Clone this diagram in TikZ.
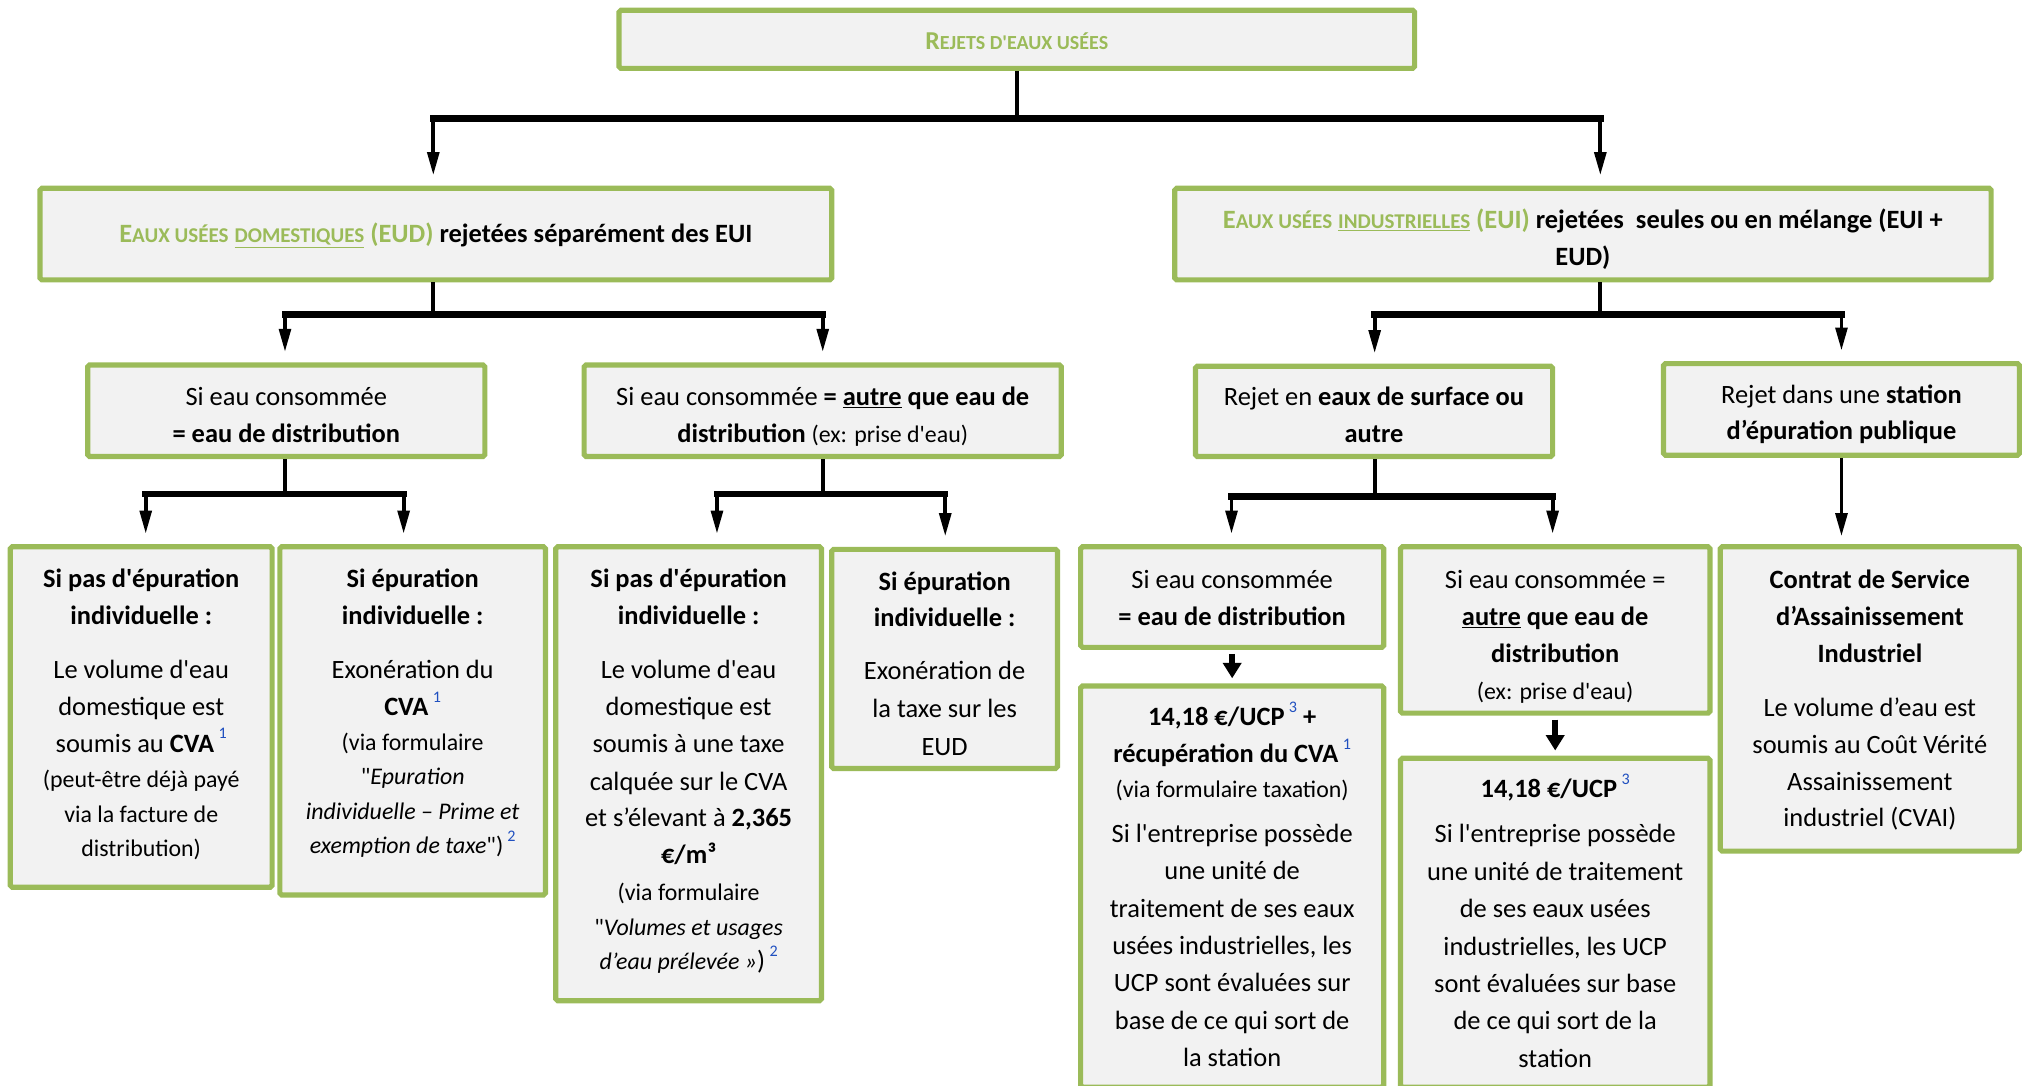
\documentclass[tikz,border=0pt]{standalone}
\usepackage{fontspec}
\setmainfont{Carlito}
\newfontfamily\calfont{Carlito}
\usetikzlibrary{arrows.meta,fit}
\definecolor{grn}{HTML}{9BBB59}
\definecolor{boxbg}{HTML}{F2F2F2}
\definecolor{fnblue}{HTML}{2050C0}
\newcommand\fnote[1]{\,\raisebox{0.5em}{\fontsize{12.5}{12}\selectfont\color{fnblue}#1}}
\newcommand\sm{\fontsize{18.5}{26}\selectfont}
\newcommand\fsc[1]{{\fontsize{16.3}{20}\selectfont #1}}
\newcommand\tsc[1]{{\fontsize{15.5}{20}\selectfont #1}}
\begin{document}
\begin{tikzpicture}[x=1pt,y=-1pt,
  box/.style={draw=grn, line width=4pt, fill=boxbg, rounded corners=1.5pt, inner sep=0pt},
  txt/.style={align=center, inner sep=0pt, anchor=north, font=\calfont\fontsize{20.5}{28.5}\selectfont},
  stem/.style={line width=3pt},
  bar/.style={line width=5pt, line cap=rect},
  arr/.style={line width=3pt, -{Triangle[length=18pt,width=9pt]}, shorten >=8pt},
  sarr/.style={line width=5pt, -{Triangle[length=12pt,width=14pt]}, shorten <=3pt, shorten >=4pt}]
\path[use as bounding box] (0,0) rectangle (1568,842);
\clip (0,0) rectangle (1568,842);

% junction coordinates
\coordinate (j0) at (788.5,92);  \coordinate (j0l) at (336,92);  \coordinate (j0r) at (1241,92);
\coordinate (j1) at (336,244);   \coordinate (j1l) at (221,244); \coordinate (j1r) at (638,244);
\coordinate (j2) at (1241,244);  \coordinate (j2l) at (1066,244);\coordinate (j2r) at (1428,244);
\coordinate (j3) at (221,383);   \coordinate (j3l) at (113,383); \coordinate (j3r) at (313,383);
\coordinate (j4) at (638,383);   \coordinate (j4l) at (556,383); \coordinate (j4r) at (733,383);
\coordinate (j5) at (1066,385);  \coordinate (j5l) at (955,385); \coordinate (j5r) at (1204,385);

% boxes
\node[box, fit={(480,8) (1097,53)}] (top) {};
\node[box, fit={(31,146) (645,217)}] (eud) {};
\node[box, fit={(911,146) (1544,217)}] (eui) {};
\node[box, fit={(68,283) (376,354)}] (c1) {};
\node[box, fit={(453,283) (823,354)}] (c2) {};
\node[box, fit={(927,284) (1204,354)}] (c3) {};
\node[box, fit={(1290,282) (1566,353)}] (c4) {};
\node[box, fit={(8,424) (211,688)}] (d1) {};
\node[box, fit={(217,424) (423,694)}] (d2) {};
\node[box, fit={(431,424) (637,776)}] (d3) {};
\node[box, fit={(645,426) (820,596)}] (d4) {};
\node[box, fit={(838,424) (1073,502)}] (e1) {};
\node[box, fit={(1086,424) (1326,553)}] (e2) {};
\node[box, fit={(1334,424) (1566,660)}] (e3) {};
\node[box, fit={(838,532) (1073,843)}] (f1) {};
\node[box, fit={(1086,588) (1326,843)}] (f2) {};

% connectors
\draw[stem] (top.south) -- (j0);
\draw[bar] (j0l) -- (j0r);
\draw[arr] (j0l) -- (j0l |- eud.north);
\draw[arr] (j0r) -- (j0r |- eui.north);

\draw[stem] (j1 |- eud.south) -- (j1);
\draw[bar] (j1l) -- (j1r);
\draw[arr] (j1l) -- (j1l |- c1.north);
\draw[arr] (j1r) -- (j1r |- c2.north);

\draw[stem] (j2 |- eui.south) -- (j2);
\draw[bar] (j2l) -- (j2r);
\draw[arr] (j2l) -- (j2l |- c3.north);
\draw[arr] (j2r) -- (j2r |- c4.north);

\draw[stem] (j3 |- c1.south) -- (j3);
\draw[bar] (j3l) -- (j3r);
\draw[arr] (j3l) -- (j3l |- d1.north);
\draw[arr] (j3r) -- (j3r |- d2.north);

\draw[stem] (j4 |- c2.south) -- (j4);
\draw[bar] (j4l) -- (j4r);
\draw[arr] (j4l) -- (j4l |- d3.north);
\draw[arr] (j4r) -- (j4r |- d4.north);

\draw[stem] (j5 |- c3.south) -- (j5);
\draw[bar] (j5l) -- (j5r);
\draw[arr] (j5l) -- (j5l |- e1.north);
\draw[arr] (j5r) -- (j5r |- e2.north);

\draw[arr, shorten >=6pt] (c4.south) -- (c4.south |- e3.north);
\draw[sarr] (e1.south) -- (f1.north);
\draw[sarr] (e2.south) -- (e2.south |- f2.north);

% texts
\node[txt] (top-t) at (788.5,18) {\strut{\bfseries\color{grn}{\fontsize{20}{20}\selectfont R}\tsc{EJETS D'EAUX USÉES}}};

\node[txt] (eud-t) at (338,168) {\strut{\bfseries\color{grn}E\fsc{AUX USÉES} \underline{\fsc{DOMESTIQUES}} (EUD)} \textbf{rejetées séparément des EUI}};

\node[txt] (eui-t) at (1227.5,157) {\strut{\bfseries\color{grn}E\fsc{AUX USÉES} \underline{\fsc{INDUSTRIELLES}} (EUI)} \textbf{rejetées\ \ seules ou en mélange (EUI +}\\ \textbf{EUD)}};

\node[txt] (c1-t) at (222,294.5) {\strut Si eau consommée\\ \textbf{= eau de distribution}};
\node[txt] (c2-t) at (638,294.5) {\strut Si eau consommée \textbf{= \underline{autre} que eau de}\\ \textbf{distribution} {\sm (ex: prise d'eau)}};
\node[txt] (c3-t) at (1065.5,294.5) {\strut Rejet en \textbf{eaux de surface ou}\\ \textbf{autre}};
\node[txt] (c4-t) at (1428,292.5) {\strut Rejet dans une \textbf{station}\\ \textbf{d’épuration publique}};

\node[txt] (d1-t) at (109.5,435.5) {\strut\textbf{Si pas d'épuration}\\ \textbf{individuelle :}\\[13.5pt]
  Le volume d'eau\\ domestique est\\ soumis au \textbf{CVA}\fnote{1}\\[-1pt]
  {\sm (peut-être déjà payé}\\[-1.5pt] {\sm via la facture de}\\[-2pt] {\sm distribution)}};

\node[txt] (d2-t) at (320,435.5) {\strut\textbf{Si épuration}\\ \textbf{individuelle :}\\[13.5pt]
  Exonération du\\ \textbf{CVA}\fnote{1}\\[-1pt]
  {\sm (via formulaire}\\[-2pt] {\sm "\textit{Epuration}}\\[-1.5pt] {\sm\textit{individuelle – Prime et}}\\[-2pt] {\sm\textit{exemption de taxe}")\fnote{2}}};

\node[txt] (d3-t) at (534,435.5) {\strut\textbf{Si pas d'épuration}\\ \textbf{individuelle :}\\[13.5pt]
  Le volume d'eau\\ domestique est\\ soumis à une taxe\\[1pt] calquée sur le CVA\\ et s’élevant à \textbf{2,365}\\ \textbf{€/m³}\\
  {\sm (via formulaire}\\[-1.5pt] {\sm "\textit{Volumes et usages}}\\[-1.5pt] {\sm\textit{d’eau prélevée »}})\fnote{2}};

\node[txt] (d4-t) at (732.5,437.5) {\strut\textbf{Si épuration}\\ \textbf{individuelle :}\\[12.5pt]
  Exonération de\\[1pt] la taxe sur les\\[1pt] EUD};

\node[txt] (e1-t) at (955.5,436.5) {\strut Si eau consommée\\ \textbf{= eau de distribution}};
\node[txt] (e2-t) at (1206,436.5) {\strut Si eau consommée =\\ \textbf{\underline{autre} que eau de}\\ \textbf{distribution}\\ {\sm (ex: prise d'eau)}};
\node[txt] (e3-t) at (1450,436.5) {\strut\textbf{Contrat de Service}\\ \textbf{d’Assainissement}\\ \textbf{Industriel}\\[13.5pt]
  Le volume d’eau est\\ soumis au Coût Vérité\\ Assainissement\\ industriel (CVAI)};

\node[txt] (f1-t) at (955.5,542.5) {\strut\textbf{14,18 €/UCP}\fnote{3} \textbf{+}\\ \textbf{récupération du CVA}\fnote{1}\\[-1.5pt] {\sm (via formulaire taxation)}\\[6.5pt]
  Si l'entreprise possède\\[0.5pt] une unité de\\[0.5pt] traitement de ses eaux\\[0.5pt] usées industrielles, les\\[0.5pt] UCP sont évaluées sur\\[0.5pt] base de ce qui sort de\\[0.5pt] la station};

\node[txt] (f2-t) at (1206,598.5) {\strut\textbf{14,18 €/UCP}\fnote{3}\\[6.5pt]
  Si l'entreprise possède\\[0.5pt] une unité de traitement\\[0.5pt] de ses eaux usées\\[0.5pt] industrielles, les UCP\\[0.5pt] sont évaluées sur base\\[0.5pt] de ce qui sort de la\\[0.5pt] station};
\end{tikzpicture}
\end{document}
